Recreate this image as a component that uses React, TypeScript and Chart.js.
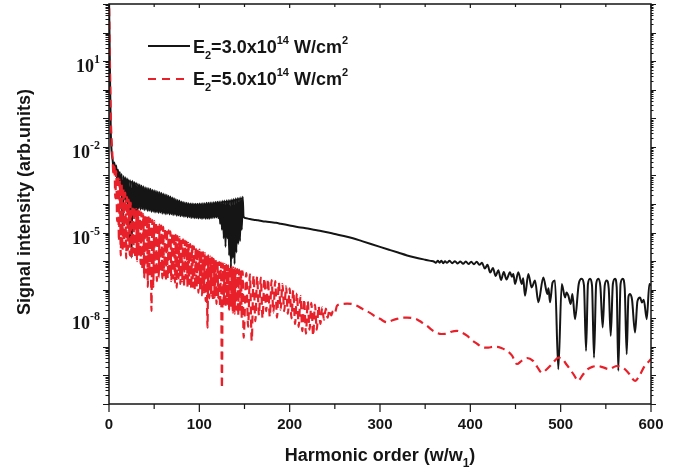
import React, { useEffect, useRef } from 'react';
import { Chart, registerables } from 'chart.js';

Chart.register(...registerables);

// ---------- axis settings ----------
const X_MIN = 0;
const X_MAX = 600;
const Y_MIN_EXP = -11;
const Y_MAX_EXP = 3;
const xTickValues = [0, 100, 200, 300, 400, 500, 600];
const xMinorTickValues = [50, 150, 250, 350, 450, 550];
const yLabelExponents = [1, -2, -5, -8];

// ---------- series (log10 of signal intensity) ----------
// E2 = 3.0x10^14 W/cm^2 : harmonic orders 0,1,2,... (one sample per order)
const blackDenseStart = 0;
const blackDenseLog10 = [
  3.3, 0.8, -1.5, -2.2, -2.45, -2.75, -2.55, -2.95, -2.65, -3.15,
  -2.8, -3.35, -2.88, -3.6, -2.95, -4.9, -3.02, -3.85, -3.06, -3.95,
  -3.1, -4.1, -3.14, -5.5, -3.17, -5.88, -3.19, -4.2, -3.23, -4.25,
  -3.26, -4.6, -3.29, -4.15, -3.32, -4.2, -3.35, -4.18, -3.38, -4.22,
  -3.41, -4.2, -3.43, -4.25, -3.45, -4.24, -3.47, -4.28, -3.5, -4.27,
  -3.52, -4.3, -3.54, -4.29, -3.56, -4.32, -3.58, -4.3, -3.61, -4.34,
  -3.63, -4.33, -3.66, -4.36, -3.68, -4.34, -3.71, -4.37, -3.74, -4.36,
  -3.77, -4.39, -3.8, -4.38, -3.83, -4.41, -3.86, -4.4, -3.88, -4.43,
  -3.91, -4.42, -3.93, -4.45, -3.95, -4.44, -3.96, -4.47, -3.97, -4.46,
  -3.98, -4.49, -3.98, -4.48, -3.99, -4.5, -3.99, -4.49, -3.99, -4.51,
  -3.98, -4.5, -3.98, -4.52, -3.97, -4.5, -3.97, -4.52, -3.96, -4.51,
  -3.96, -4.52, -3.95, -4.5, -3.95, -4.49, -3.94, -4.48, -3.93, -4.47,
  -3.92, -4.5, -3.91, -4.7, -3.9, -4.9, -3.89, -5.2, -3.88, -5.5,
  -3.87, -5.2, -3.86, -5.8, -3.85, -6.26, -3.83, -5.9, -3.82, -6.1,
  -3.8, -5.7, -3.79, -5.4, -3.78, -5.3, -3.76, -4.9, -3.75,
];
const blackTailOrder = [
  149, 152, 155, 160, 165, 170, 175, 180, 185, 190, 195, 200, 210, 220, 230, 240, 250,
  260, 270, 280, 290, 300, 310, 320, 330, 340, 350, 356,
  360, 362, 364, 366, 368, 370, 372, 374, 377, 380, 383, 386, 389, 392, 395, 398,
  401, 404, 407, 410, 413, 416, 419, 422, 425, 428, 431, 434, 437, 440,
  443.9, 446, 447.6, 449.5, 453.1, 456.9, 458.5, 460.5, 464.2, 467.9, 471.6, 475.3,
  480.8, 485.3, 486.5, 488.2, 491, 493.7, 497.4, 501.2, 504.8, 506.5, 508.5, 511.1,
  513, 515.9, 520, 523.3, 525.8, 528.1, 530.2, 532.5, 534.7, 536.9, 539.3, 541.7,
  544, 546.5, 548.8, 551, 553.2, 555.4, 557.8, 560.2, 562, 563.8, 566.3, 568.7,
  570.9, 573.1, 575, 576.8, 579, 582.3, 585, 587.9, 590, 592, 595.3, 598.2, 600,
];
const blackTailLog10 = [
  -4.45, -4.5, -4.52, -4.55, -4.57, -4.6, -4.62, -4.64, -4.66, -4.69, -4.72, -4.75, -4.81, -4.86, -4.92, -4.98, -5.05,
  -5.12, -5.2, -5.3, -5.4, -5.5, -5.6, -5.7, -5.8, -5.88, -5.95, -5.99,
  -6.02, -6.06, -5.99, -6.06, -5.99, -6.07, -6.0, -6.06, -5.99, -6.07, -6.0, -6.08, -6.01, -6.09, -6.01, -6.1,
  -6.02, -6.11, -6.02, -6.13, -6.06, -6.26, -6.13, -6.4, -6.24, -6.52, -6.32, -6.66, -6.38, -6.64,
  -6.39, -6.55, -6.45, -6.8, -6.39, -6.8, -6.6, -7.21, -6.45, -6.92, -6.68, -7.44,
  -6.57, -7.15, -6.95, -7.44, -6.75, -6.68, -9.78, -6.8, -7.27, -7.1, -7.21, -7.5,
  -7.15, -8.03, -6.8, -6.62, -6.85, -9.14, -6.8, -6.62, -6.85, -9.38, -6.8, -6.62,
  -6.9, -8.32, -6.85, -6.68, -6.95, -8.61, -6.8, -6.62, -6.9, -9.84, -6.8, -6.62,
  -6.95, -9.26, -7.25, -7.15, -7.35, -8.5, -7.4, -7.27, -7.45, -7.35, -8.03, -6.8, -6.85,
];

// E2 = 5.0x10^14 W/cm^2 : harmonic orders 0,1,2,... (one sample per order)
const redDenseStart = 0;
const redDenseLog10 = [
  3.3, 1.0, -1.0, -1.8, -2.45, -3.0, -2.6, -3.8, -2.85, -4.6,
  -3.0, -5.3, -3.15, -5.8, -3.3, -5.6, -3.45, -5.5, -3.6, -5.9,
  -3.75, -5.6, -3.85, -5.8, -3.95, -5.9, -4.05, -5.7, -4.12, -5.9,
  -4.18, -6.0, -4.22, -5.8, -4.26, -6.1, -4.3, -6.3, -4.35, -6.6,
  -4.38, -6.4, -4.42, -6.9, -4.46, -6.5, -4.52, -7.74, -4.56, -6.9,
  -4.6, -6.5, -4.64, -6.7, -4.68, -6.58, -4.72, -6.4, -4.76, -6.6,
  -4.8, -6.5, -4.84, -6.7, -4.88, -6.6, -4.92, -6.5, -4.96, -6.7,
  -5.0, -6.6, -5.04, -6.75, -5.08, -6.93, -5.12, -6.6, -5.16, -6.8,
  -5.2, -6.7, -5.24, -6.9, -5.28, -6.6, -5.32, -6.9, -5.36, -6.8,
  -5.4, -6.95, -5.44, -6.9, -5.48, -7.0, -5.52, -6.9, -5.56, -7.1,
  -5.6, -7.0, -5.64, -7.2, -5.68, -7.1, -5.72, -7.4, -5.76, -8.33,
  -5.8, -7.3, -5.84, -7.2, -5.88, -7.4, -5.92, -7.28, -5.96, -7.5,
  -6.0, -7.3, -6.03, -7.6, -6.05, -10.44, -6.08, -7.5, -6.1, -7.6,
  -6.13, -7.5, -6.15, -7.7, -6.18, -7.6, -6.2, -7.8, -6.23, -7.84,
  -6.25, -7.7, -6.28, -7.9, -6.3, -7.8, -6.33, -8.0, -6.36, -8.68,
];
const redMidOrder = [
  152, 154, 156, 158, 160, 162, 164, 166, 168, 170, 172, 174, 176, 178, 180, 182, 184,
  186, 188, 190, 192, 194, 196, 198, 200, 202, 204, 206, 208, 210, 212, 214, 216, 218,
  220, 222, 224, 226, 228, 230, 232, 234, 236, 238, 240, 242, 244, 246, 248, 250,
];
const redMidLog10 = [
  -6.42, -8.3, -6.46, -8.79, -6.5, -8.1, -6.54, -7.9, -6.58, -8.0, -6.6, -7.75, -6.63, -7.95, -6.66, -7.8, -6.7,
  -7.98, -6.75, -7.7, -6.8, -7.75, -6.88, -7.85, -6.95, -8.0, -7.02, -8.2, -7.12, -8.3, -7.22, -8.45, -7.33, -8.54,
  -7.4, -8.4, -7.46, -8.61, -7.52, -8.4, -7.57, -8.2, -7.62, -8.05, -7.66, -7.98, -7.7, -7.9, -7.74, -7.82,
];
const redTailOrder = [
  252.4, 258, 263.5, 269, 274.5, 281, 288.9, 294, 300, 307.7, 313, 318.8, 324, 329.9, 335, 341, 346,
  352, 357, 363.1, 368, 374.2, 379, 385.3, 390, 396.3, 402, 407.4, 414, 420, 425, 429.5, 435,
  440.6, 446, 451.7, 457, 462.7, 469.4, 474, 479.4, 484, 488.2, 493, 497.4, 502.6, 506, 510.4,
  515, 519.2, 524, 530, 535, 541, 547, 554, 558, 562, 566, 571, 576, 582.3, 587, 593, 596.5, 600,
];
const redTailLog10 = [
  -7.56, -7.5, -7.49, -7.5, -7.56, -7.68, -7.81, -7.92, -8.02, -8.14, -8.08, -8.02, -7.98, -7.98, -7.99, -8.04, -8.14,
  -8.26, -8.4, -8.51, -8.55, -8.54, -8.47, -8.44, -8.49, -8.61, -8.77, -8.89, -9.02, -9.03, -9.0, -9.0, -9.05,
  -9.14, -9.3, -9.6, -9.48, -9.39, -9.49, -9.7, -9.91, -9.8, -9.67, -9.5, -9.38, -9.44, -9.6, -9.78,
  -10.0, -10.19, -10.0, -9.78, -9.7, -9.67, -9.72, -9.78, -9.72, -9.67, -9.7, -9.78, -9.95, -10.19, -10.02, -9.67, -9.55, -9.42,
];

// ---------- colours / fonts ----------
const BLACK = '#151515';
const RED = '#e8202a';
const SANS = '"Liberation Sans", Arial, Helvetica, sans-serif';
const SERIF = '"Liberation Serif", "Times New Roman", Times, serif';

type Pt = { x: number; y: number };

function denseToPoints(start: number, logs: number[]): Pt[] {
  return logs.map((l, i) => ({ x: start + i, y: Math.pow(10, l) }));
}
function pairsToPoints(orders: number[], logs: number[]): Pt[] {
  return orders.map((o, i) => ({ x: o, y: Math.pow(10, logs[i]) }));
}

type Part = [string, 'n' | 'sub' | 'sup'];

function drawRich(ctx: CanvasRenderingContext2D, x: number, baseline: number, parts: Part[], size: number, small: number, family: string, measureOnly = false): number {
  let cx = x;
  for (const [t, kind] of parts) {
    const fs = kind === 'n' ? size : small;
    ctx.font = `bold ${fs}px ${family}`;
    const dy = kind === 'sub' ? Math.round(size * 0.33) : kind === 'sup' ? -Math.round(size * 0.5) : 0;
    if (!measureOnly) ctx.fillText(t, cx, baseline + dy);
    cx += ctx.measureText(t).width;
  }
  return cx - x;
}

const decorPlugin = {
  id: 'decor',
  afterDraw(chart: any) {
    const { ctx, chartArea: a } = chart;
    const xs = chart.scales.x;
    const ys = chart.scales.y;
    ctx.save();
    ctx.fillStyle = BLACK;
    ctx.strokeStyle = BLACK;

    // frame
    ctx.lineWidth = 1.5;
    ctx.strokeRect(a.left, a.top, a.right - a.left, a.bottom - a.top);

    // x ticks
    ctx.lineWidth = 1.2;
    ctx.beginPath();
    for (const v of xTickValues) {
      const p = xs.getPixelForValue(v);
      ctx.moveTo(p, a.bottom); ctx.lineTo(p, a.bottom + 8);
      ctx.moveTo(p, a.top); ctx.lineTo(p, a.top + 4);
    }
    for (const v of xMinorTickValues) {
      const p = xs.getPixelForValue(v);
      ctx.moveTo(p, a.bottom); ctx.lineTo(p, a.bottom + 5);
      ctx.moveTo(p, a.top); ctx.lineTo(p, a.top + 3);
    }
    ctx.stroke();

    // y ticks (decades and 2..9 sub-ticks)
    ctx.lineWidth = 1;
    ctx.beginPath();
    for (let e = Y_MIN_EXP; e <= Y_MAX_EXP; e++) {
      for (let m = 1; m <= 9; m++) {
        const v = m * Math.pow(10, e);
        if (v > Math.pow(10, Y_MAX_EXP) * 1.0001) break;
        const p = Math.round(ys.getPixelForValue(v)) + 0.5;
        const len = m === 1 ? 6 : 3.5;
        ctx.moveTo(a.left, p); ctx.lineTo(a.left - len, p);
        ctx.moveTo(a.right, p); ctx.lineTo(a.right + len - 1, p);
      }
    }
    ctx.stroke();

    // x tick labels
    ctx.font = `bold 15px ${SANS}`;
    ctx.textAlign = 'center';
    ctx.textBaseline = 'middle';
    for (const v of xTickValues) {
      ctx.fillText(String(v), xs.getPixelForValue(v), a.bottom + 21);
    }

    // y tick labels 10^n
    ctx.textAlign = 'left';
    ctx.textBaseline = 'alphabetic';
    for (const e of yLabelExponents) {
      const p = ys.getPixelForValue(Math.pow(10, e));
      const expStr = e < 0 ? '-' + Math.abs(e) : String(e);
      const parts: Part[] = [['10', 'n'], [expStr, 'sup']];
      const w = drawRich(ctx, 0, 0, parts, 18, 12, SERIF, true);
      drawRich(ctx, a.left - 9 - w, p + 11, parts, 18, 12, SERIF);
    }

    // axis titles
    ctx.font = `bold 18px ${SANS}`;
    ctx.save();
    ctx.translate(30, 202);
    ctx.rotate(-Math.PI / 2);
    ctx.textAlign = 'center';
    ctx.fillText('Signal intensity (arb.units)', 0, 0);
    ctx.restore();

    const xt: Part[] = [['Harmonic order (w/w', 'n'], ['1', 'sub'], [')', 'n']];
    const wt = drawRich(ctx, 0, 0, xt, 18, 12, SANS, true);
    drawRich(ctx, 380 - wt / 2, 461, xt, 18, 12, SANS);

    // legend
    ctx.lineWidth = 2;
    ctx.strokeStyle = BLACK;
    ctx.beginPath(); ctx.moveTo(148, 46); ctx.lineTo(190, 46); ctx.stroke();
    ctx.strokeStyle = RED;
    ctx.setLineDash([8, 6]);
    ctx.beginPath(); ctx.moveTo(148, 79); ctx.lineTo(190, 79); ctx.stroke();
    ctx.setLineDash([]);
    const leg1: Part[] = [['E', 'n'], ['2', 'sub'], ['=3.0x10', 'n'], ['14', 'sup'], [' W/cm', 'n'], ['2', 'sup']];
    const leg2: Part[] = [['E', 'n'], ['2', 'sub'], ['=5.0x10', 'n'], ['14', 'sup'], [' W/cm', 'n'], ['2', 'sup']];
    ctx.fillStyle = BLACK;
    drawRich(ctx, 193, 53, leg1, 18, 11, SANS);
    drawRich(ctx, 193, 85, leg2, 18, 11, SANS);

    ctx.restore();
  },
};

export default function App() {
  const ref = useRef<HTMLCanvasElement | null>(null);

  useEffect(() => {
    document.body.style.margin = '0';
    const canvas = ref.current;
    if (!canvas) return;
    const redPts = [
      ...denseToPoints(redDenseStart, redDenseLog10),
      ...pairsToPoints(redMidOrder, redMidLog10),
      ...pairsToPoints(redTailOrder, redTailLog10),
    ];
    const blackPts = [
      ...denseToPoints(blackDenseStart, blackDenseLog10),
      ...pairsToPoints(blackTailOrder, blackTailLog10),
    ];
    const chart = new Chart(canvas, {
      type: 'line',
      data: {
        datasets: [
          {
            label: 'E2=5.0x10^14 W/cm^2',
            data: redPts,
            borderColor: RED,
            borderWidth: 2.2,
            borderDash: [8, 5],
            pointRadius: 0,
            fill: false,
            cubicInterpolationMode: 'monotone',
          },
          {
            label: 'E2=3.0x10^14 W/cm^2',
            data: blackPts,
            borderColor: BLACK,
            borderWidth: 2,
            pointRadius: 0,
            fill: false,
            cubicInterpolationMode: 'monotone',
          },
        ],
      },
      options: {
        responsive: false,
        animation: false,
        parsing: false,
        normalized: true,
        layout: { padding: { left: 109, right: 31, top: 4, bottom: 68 } },
        plugins: { legend: { display: false }, tooltip: { enabled: false } },
        scales: {
          x: { type: 'linear', min: X_MIN, max: X_MAX, display: false },
          y: { type: 'logarithmic', min: Math.pow(10, Y_MIN_EXP), max: Math.pow(10, Y_MAX_EXP), display: false },
        },
      },
      plugins: [decorPlugin],
    } as any);
    return () => chart.destroy();
  }, []);

  return (
    <div style={{ width: 682, height: 472, background: '#fff' }}>
      <canvas ref={ref} width={682} height={472} style={{ display: 'block' }} />
    </div>
  );
}
